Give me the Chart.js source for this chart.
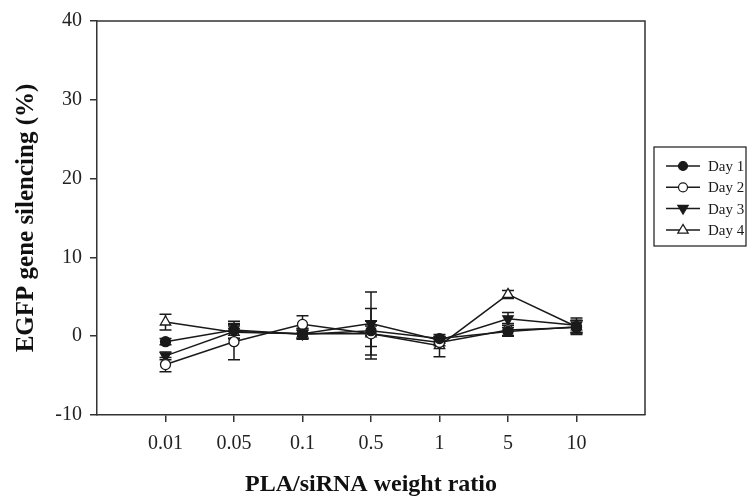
<!DOCTYPE html>
<html>
<head>
<meta charset="utf-8">
<script src="https://cdn.jsdelivr.net/npm/chart.js@4/dist/chart.umd.min.js"></script>
<style>
html,body{margin:0;padding:0;background:#fff}
#wrap{width:748px;height:499px}
</style>
</head>
<body>
<div id="wrap"><canvas id="chartCanvas" width="748" height="499"></canvas></div>
<script>
// weight ratios on the x axis
let ratios=["0.01","0.05","0.1","0.5","1","5","10"]

// silencing (%) per day, with standard deviations
let day1=[-0.7,0.8,0.25,0.7,-0.3,0.6,1.2]
let day1Err=[0.4,1.1,0.5,0.6,0.3,0.5,0.8]
let day2=[-3.6,-0.7,1.5,0.3,-0.8,0.8,1.1]
let day2Err=[0.9,2.3,1.1,3.2,0.4,0.8,0.9]
let day3=[-2.5,0.6,0.3,1.6,-0.5,2.2,1.4]
let day3Err=[0.5,0.9,0.7,4.0,0.4,0.8,0.9]
let day4=[1.8,0.5,0.3,0.3,-1.2,5.3,1.2]
let day4Err=[1.0,0.8,0.6,1.6,1.4,0.5,0.8]

let yTicks=[-10,0,10,20,30,40]

let serif="'Liberation Serif','Times New Roman',serif"
let ink="#1a1a1a"

let toPoints=vals=>vals.map((v,i)=>({x:i,y:v}))

let series=[
    {label:"Day 1",vals:day1,err:day1Err,style:"circle",fill:ink,rot:0,r:5},
    {label:"Day 2",vals:day2,err:day2Err,style:"circle",fill:"#fff",rot:0,r:5},
    {label:"Day 3",vals:day3,err:day3Err,style:"triangle",fill:ink,rot:180,r:6},
    {label:"Day 4",vals:day4,err:day4Err,style:"triangle",fill:"#fff",rot:0,r:6}
]

// vertical error bars with caps, drawn under the markers
let errorBars={
    id:"errorBars",
    beforeDatasetsDraw(chart){
        let ctx=chart.ctx
        let xs=chart.scales.x, ys=chart.scales.y
        ctx.save()
        ctx.strokeStyle=ink
        ctx.lineWidth=1.5
        series.forEach(s=>{
            s.vals.forEach((v,i)=>{
                let px=xs.getPixelForValue(i)
                let top=ys.getPixelForValue(v+s.err[i])
                let bot=ys.getPixelForValue(v-s.err[i])
                ctx.beginPath()
                ctx.moveTo(px,top);ctx.lineTo(px,bot)
                ctx.moveTo(px-6,top);ctx.lineTo(px+6,top)
                ctx.moveTo(px-6,bot);ctx.lineTo(px+6,bot)
                ctx.stroke()
            })
        })
        ctx.restore()
    }
}

let drawMarker=(ctx,s,x,y)=>{
    ctx.beginPath()
    if(s.style==="circle"){
        ctx.arc(x,y,s.r,0,Math.PI*2)
    }else{
        let r=s.r, d=s.rot===180?-1:1
        ctx.moveTo(x,y-d*r)
        ctx.lineTo(x+r*0.95,y+d*r*0.6)
        ctx.lineTo(x-r*0.95,y+d*r*0.6)
        ctx.closePath()
    }
    ctx.fillStyle=s.fill
    ctx.fill()
    ctx.stroke()
}

// closed frame around the plot plus the boxed legend on the right
let frameAndLegend={
    id:"frameAndLegend",
    afterDraw(chart){
        let ctx=chart.ctx
        let a=chart.chartArea
        ctx.save()
        ctx.strokeStyle="#333"
        ctx.lineWidth=1.5
        ctx.beginPath()
        ctx.moveTo(a.left,a.top);ctx.lineTo(a.right,a.top);ctx.lineTo(a.right,a.bottom)
        ctx.stroke()

        let bx=a.right+9, by=147, bw=92, bh=99
        ctx.lineWidth=1.2
        ctx.strokeStyle=ink
        ctx.strokeRect(bx,by,bw,bh)
        ctx.font="15px "+serif
        ctx.textBaseline="middle"
        series.forEach((s,i)=>{
            let y=166+i*21.3
            ctx.lineWidth=1.5
            ctx.beginPath()
            ctx.moveTo(bx+12,y);ctx.lineTo(bx+46,y)
            ctx.stroke()
            ctx.lineWidth=1.2
            drawMarker(ctx,{...s,r:s.r-0.5},bx+29,y)
            ctx.fillStyle=ink
            ctx.fillText(s.label,bx+54,y+1)
        })
        ctx.restore()
    }
}

let chartCanvas=document.querySelector("#chartCanvas")
let chart=new Chart(chartCanvas,{
    type:"line",
    data:{
        datasets:series.map(s=>({
            label:s.label,
            data:toPoints(s.vals),
            borderColor:ink,
            borderWidth:1.5,
            pointStyle:s.style,
            pointRotation:s.rot,
            pointRadius:s.r,
            pointBorderWidth:1.3,
            pointBackgroundColor:s.fill,
            pointBorderColor:ink,
            tension:0
        }))
    },
    options:{
        responsive:false,
        animation:false,
        layout:{padding:{top:21,right:103,left:0,bottom:0}},
        plugins:{legend:{display:false},tooltip:{enabled:false}},
        scales:{
            x:{
                type:"linear",
                min:-1,max:7,
                afterBuildTicks:scale=>{
                    scale.ticks=ratios.map((r,i)=>({value:i}))
                },
                afterFit:scale=>{scale.height=84},
                ticks:{
                    callback:v=>ratios[v],
                    color:"#222",
                    font:{family:serif,size:20},
                    padding:10,
                    maxRotation:0,
                    autoSkip:false
                },
                grid:{drawOnChartArea:false,tickLength:7,color:"#333",lineWidth:1.5},
                border:{display:true,color:"#333",width:1.5},
                title:{
                    display:true,
                    text:"PLA/siRNA weight ratio",
                    color:"#111",
                    font:{family:serif,size:24,weight:"bold"},
                    padding:{bottom:0,top:0}
                }
            },
            y:{
                min:-10,max:40,
                afterBuildTicks:scale=>{
                    scale.ticks=yTicks.map(v=>({value:v}))
                },
                afterFit:scale=>{scale.width=97},
                ticks:{
                    color:"#222",
                    font:{family:serif,size:20},
                    padding:8
                },
                grid:{drawOnChartArea:false,tickLength:7,color:"#333",lineWidth:1.5},
                border:{display:true,color:"#333",width:1.5},
                title:{
                    display:true,
                    text:"EGFP gene silencing (%)",
                    color:"#111",
                    font:{family:serif,size:25,weight:"bold"},
                    padding:{top:12,bottom:0}
                }
            }
        }
    },
    plugins:[errorBars,frameAndLegend]
})
</script>
</body>
</html>
